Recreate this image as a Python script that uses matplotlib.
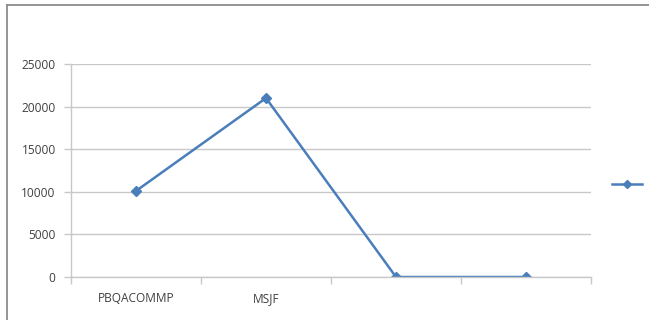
import matplotlib.pyplot as plt
from matplotlib.lines import Line2D

categories = ['PBQACOMMP', 'MSJF', '', '']
values = [10100, 21000, 0, 0]
y_ticks = [0, 5000, 10000, 15000, 20000, 25000]

plt.rcParams['font.family'] = ['Open Sans', 'DejaVu Sans']

fig = plt.figure(figsize=(6.49, 3.2), dpi=100)
ax = fig.add_axes([71/649, 43/320, 520/649, 213/320])

line_col = '#4a7ebb'
grid_col = '#c8c8c8'
text_col = '#404040'

x = list(range(len(categories)))
line, = ax.plot(x, values, color=line_col, lw=1.8, marker='D', ms=5,
                markeredgecolor=line_col, markerfacecolor=line_col)

ax.set_xlim(-0.5, len(categories) - 0.5)
ax.set_ylim(0, 25000)
ax.set_yticks(y_ticks)
ax.set_yticklabels([str(v) for v in y_ticks])

# category labels in the middle, tick marks on the boundaries
ax.set_xticks(x)
ax.set_xticklabels(categories)
ax.set_xticks([i - 0.5 for i in range(len(categories) + 1)], minor=True)
ax.tick_params(axis='x', which='major', length=0, pad=11, labelsize=8.6, colors=text_col)
ax.tick_params(axis='x', which='minor', length=5, color=grid_col, width=1)
ax.tick_params(axis='y', length=5, color=grid_col, width=1, pad=6, labelsize=8.6, labelcolor=text_col)

ax.grid(axis='y', color=grid_col, lw=1)
ax.set_axisbelow(True)
for side in ['top', 'right']:
    ax.spines[side].set_visible(False)
for side in ['left', 'bottom']:
    ax.spines[side].set_color(grid_col)
    ax.spines[side].set_linewidth(1)

leg = ax.legend([line], [''], loc='center left', bbox_to_anchor=(1.04, 0.43),
                frameon=False, handlelength=2.2, borderaxespad=0, handletextpad=0,
                borderpad=0, markerscale=0.8)

# outer chart frame: left and top edges only
frame_col = '#8c8c8c'
fig.add_artist(Line2D([7/649, 7/649], [0, 1 - 5/320], transform=fig.transFigure,
                      color=frame_col, lw=1.3))
fig.add_artist(Line2D([7/649, 1], [1 - 5/320, 1 - 5/320], transform=fig.transFigure,
                      color=frame_col, lw=1.3))

fig.savefig('out.png', dpi=100)
